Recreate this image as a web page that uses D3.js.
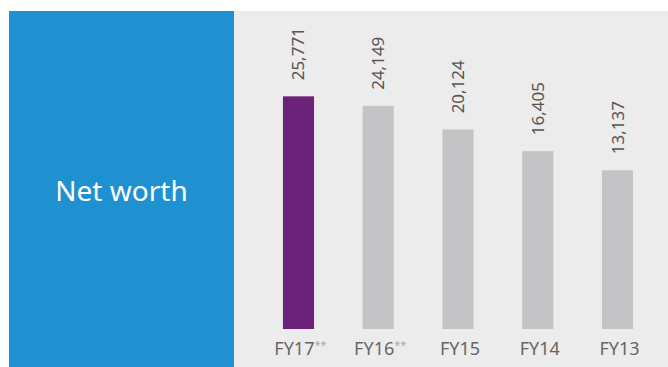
<!DOCTYPE html>
<html>
<head>
<meta charset="utf-8">
<script src="https://cdn.jsdelivr.net/npm/d3@7"></script>
<style>
  html, body { margin: 0; padding: 0; background: #fff; }
  svg { display: block; font-family: "Noto Sans", "Open Sans", sans-serif; }
</style>
</head>
<body>
<div id="chart"></div>
<script>
// chart data
const years = ["FY17", "FY16", "FY15", "FY14", "FY13"];
const marks = ["**", "**", "", "", ""];
const netWorth = [25771, 24149, 20124, 16405, 13137];
const title = "Net worth";

const width = 668, height = 367;

const svg = d3.select("#chart")
    .append("svg")
    .attr("width", width)
    .attr("height", height);

// blue title panel
svg.append("rect")
    .attr("x", 9).attr("y", 11)
    .attr("width", 225).attr("height", height - 11)
    .attr("fill", "#1f91d0");

svg.append("text")
    .attr("x", 121.5)
    .attr("y", 201)
    .attr("text-anchor", "middle")
    .attr("fill", "#fff")
    .attr("font-size", 28)
    .text(title);

// gray chart panel
svg.append("rect")
    .attr("x", 234).attr("y", 11)
    .attr("width", width - 234).attr("height", height - 11)
    .attr("fill", "#ececec");

// scales (infographic does not start at zero)
const x = d3.scaleBand()
    .domain(years)
    .range([258.6, 657.4])
    .paddingInner(0.61)
    .paddingOuter(0.305);

const y = d3.scaleLinear()
    .domain([-14000, 26000])
    .range([329, 95]);

const bars = svg.append("g");

bars.selectAll("rect")
    .data(netWorth)
    .enter()
    .append("rect")
    .attr("x", (d, i) => x(years[i]))
    .attr("y", d => y(d))
    .attr("width", x.bandwidth())
    .attr("height", d => y.range()[0] - y(d))
    .attr("fill", (d, i) => i === 0 ? "#6b2279" : "#c4c4c6");

// value labels, rotated
bars.selectAll(".val")
    .data(netWorth)
    .enter()
    .append("text")
    .attr("class", "val")
    .attr("transform", (d, i) => "translate(" + (x(years[i]) + x.bandwidth() / 2 + 6) + "," + (y(d) - 16) + ") rotate(-90)")
    .attr("fill", "#555")
    .attr("font-size", 17)
    .text(d => d3.format(",")(d));

// category labels
const cat = bars.selectAll(".cat")
    .data(years)
    .enter()
    .append("text")
    .attr("class", "cat")
    .attr("x", d => x(d) + x.bandwidth() / 2 + 2)
    .attr("y", 355)
    .attr("text-anchor", "middle")
    .attr("font-size", 18)
    .attr("fill", "#666");

cat.append("tspan").text(d => d);
cat.append("tspan")
    .attr("font-size", 11)
    .attr("dy", -6)
    .attr("fill", "#aaa")
    .text((d, i) => marks[i]);
</script>
</body>
</html>
